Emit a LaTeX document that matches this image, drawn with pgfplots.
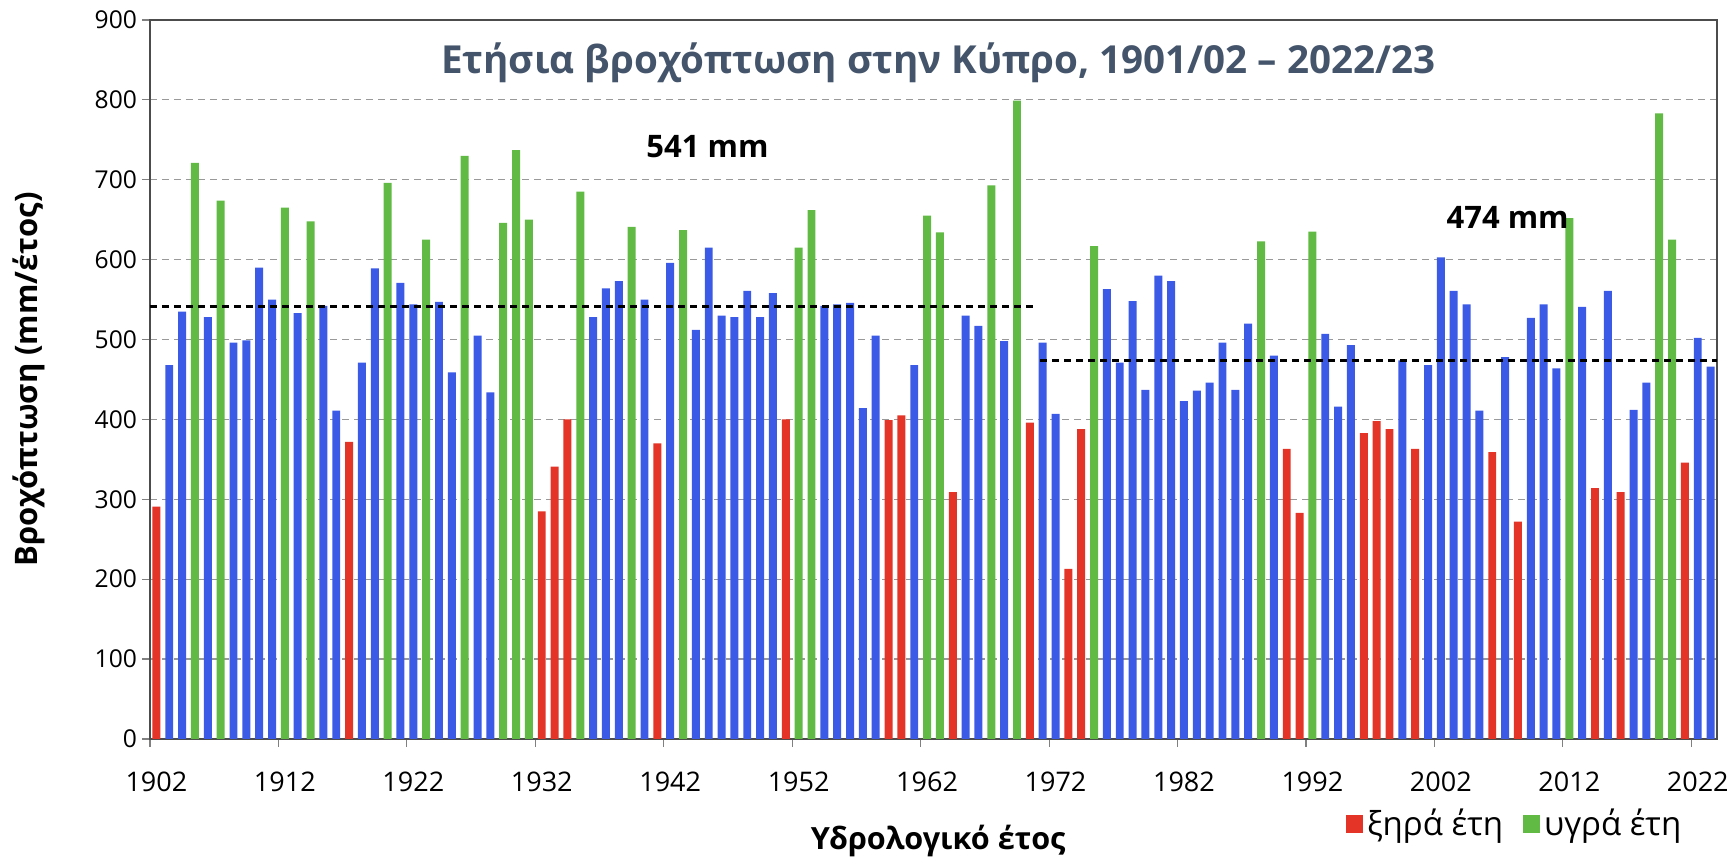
\documentclass[border=0pt]{standalone}
\usepackage{fontspec}
\setmainfont{Open Sans}
\usepackage{pgfplots}
\pgfplotsset{compat=1.18}
\usepackage{pgfplotstable}
\usetikzlibrary{calc}
\definecolor{cblue}{RGB}{59,91,231}
\definecolor{cred}{RGB}{227,52,39}
\definecolor{cgreen}{RGB}{96,186,68}
\definecolor{ctitle}{RGB}{68,84,106}

\pgfplotstableread{
year val
1902 291
1917 372
1932 285
1933 341
1934 400
1941 370
1951 400
1959 399
1960 405
1964 309
1970 396
1973 213
1974 388
1990 363
1991 283
1996 383
1997 398
1998 388
2000 363
2006 359
2008 272
2014 314
2016 309
2021 346
}\dry

\pgfplotstableread{
year val
1905 721
1907 674
1912 665
1914 648
1920 696
1923 625
1926 730
1929 646
1930 737
1931 650
1935 685
1939 641
1943 637
1952 615
1953 662
1962 655
1963 634
1967 693
1969 799
1975 617
1988 623
1992 635
2012 652
2019 783
2020 625
}\wet

\pgfplotstableread{
year val
1903 468
1904 535
1906 528
1908 496
1909 499
1910 590
1911 550
1913 533
1915 542
1916 411
1918 471
1919 589
1921 571
1922 544
1924 547
1925 459
1927 505
1928 434
1936 528
1937 564
1938 573
1940 550
1942 596
1944 512
1945 615
1946 530
1947 528
1948 561
1949 528
1950 558
1954 542
1955 544
1956 546
1957 414
1958 505
1961 468
1965 530
1966 517
1968 498
1971 496
1972 407
1976 563
1977 471
1978 548
1979 437
1980 580
1981 573
1982 423
1983 436
1984 446
1985 496
1986 437
1987 520
1989 480
1993 507
1994 416
1995 493
1999 474
2001 468
2002 603
2003 561
2004 544
2005 411
2007 478
2009 527
2010 544
2011 464
2013 541
2015 561
2017 412
2018 446
2022 502
2023 466
}\normal

\begin{document}
\begin{tikzpicture}
\begin{axis}[
  scale only axis,
  width=783.5pt, height=359.5pt,
  xmin=1901.5, xmax=2023.5, ymin=0, ymax=900,
  enlargelimits=false,
  ybar, bar width=0.62,
  /pgf/number format/assume math mode=true,
  xtick={1901.5,1911.5,1921.5,1931.5,1941.5,1951.5,1961.5,1971.5,1981.5,1991.5,2001.5,2011.5,2021.5},
  xticklabels={},
  extra x ticks={1902,1912,1922,1932,1942,1952,1962,1972,1982,1992,2002,2012,2022},
  extra x tick labels={1902,1912,1922,1932,1942,1952,1962,1972,1982,1992,2002,2012,2022},
  extra x tick style={major tick length=0pt, grid=none},
  ytick={0,100,...,900},
  xtick pos=bottom, ytick pos=left,
  tick align=outside,
  major tick length=4pt,
  tick style={black!50, line width=0.6pt},
  ymajorgrids,
  major grid style={black!40, dash pattern=on 3.5pt off 2.5pt, line width=0.6pt},
  axis line style={black!70, line width=0.7pt},
  xticklabel style={font=\fontsize{13.5}{15}\selectfont, yshift=-13pt},
  yticklabel style={font=\fontsize{12.3}{14}\selectfont, xshift=1pt},
  every axis y label/.style={at={(axis description cs:-0.077,0.5)}, rotate=90, anchor=center},
  every axis x label/.style={at={(axis description cs:0.503,-0.142)}, anchor=center},
  ylabel={\bfseries\fontsize{15.5}{18}\selectfont Βροχόπτωση (mm/έτος)},
  xlabel={\bfseries\fontsize{15.3}{18}\selectfont Υδρολογικό έτος},
  legend style={draw=none, fill=none, at={(axis description cs:0.763,-0.118)}, anchor=west,
    legend columns=2, font=\fontsize{16.5}{18}\selectfont, inner sep=0pt,
    /tikz/every even column/.append style={column sep=8pt}},
  legend image code/.code={\fill[#1] (0pt,-4.5pt) rectangle (8.5pt,4.5pt);},
]
\addplot[fill=cblue, draw=none, bar shift=0pt, forget plot] table[x=year,y=val] {\normal};
\addplot[fill=cred, draw=none, bar shift=0pt] table[x=year,y=val] {\dry};
\addlegendentry{ξηρά έτη}
\addplot[fill=cgreen, draw=none, bar shift=0pt] table[x=year,y=val] {\wet};
\addlegendentry{υγρά έτη}
\addplot[sharp plot, black, line width=1.6pt, dash pattern=on 3.5pt off 2.5pt, forget plot] coordinates {(1901.5,541) (1970.4,541)};
\addplot[sharp plot, black, line width=1.6pt, dash pattern=on 3.5pt off 2.5pt, forget plot] coordinates {(1970.8,474) (2023.5,474)};
\node[font=\bfseries\fontsize{19.3}{22}\selectfont, text=ctitle] at (axis description cs:0.503,0.941) {Ετήσια βροχόπτωση στην Κύπρο, 1901/02 – 2022/23};
\node[font=\bfseries\fontsize{15.5}{18}\selectfont] at (axis cs:1944.9,741) {541 mm};
\node[font=\bfseries\fontsize{15.5}{18}\selectfont] at (axis cs:2007.2,653) {474 mm};
\end{axis}
\pgfresetboundingbox
\path ($(current axis.south west)+(-75pt,-60pt)$) rectangle ($(current axis.north east)+(8.5pt,10pt)$);
\end{tikzpicture}
\end{document}
